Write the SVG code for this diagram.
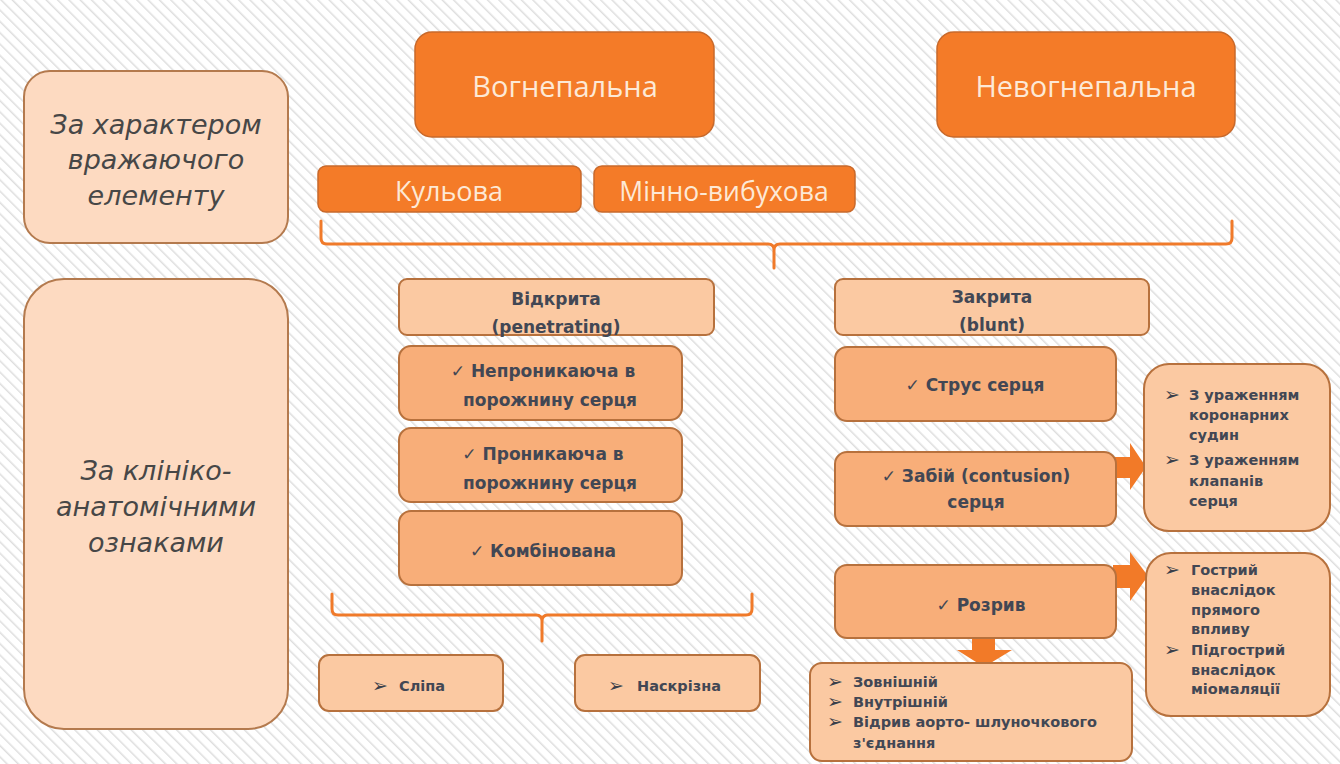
<svg xmlns="http://www.w3.org/2000/svg" width="1340" height="764" viewBox="0 0 1340 764">
<defs>
<pattern id="stripes" width="8" height="8" patternUnits="userSpaceOnUse" patternTransform="rotate(-45)">
<rect width="8" height="8" fill="#ffffff"/>
<line x1="0" y1="0" x2="0" y2="8" stroke="#dedede" stroke-width="3"/>
</pattern>
</defs>
<style>
.dark{fill:#f47b28;stroke:#c8692b;stroke-width:1.5}
.mid{fill:#f8ae79;stroke:#b7713d;stroke-width:2}
.light{fill:#fbc9a2;stroke:#b7713d;stroke-width:2}
.pale{fill:#fddac1;stroke:#b47a4e;stroke-width:2}
.ttop{font-family:"Open Sans","Noto Sans",sans-serif;fill:#fde9d6;text-anchor:middle}
.tit{font-family:"DejaVu Sans",sans-serif;font-style:italic;font-size:27px;fill:#474747;text-anchor:middle}
.tb{font-family:"DejaVu Sans",sans-serif;font-weight:bold;font-size:17px;fill:#424754;text-anchor:middle}
.ts{font-family:"DejaVu Sans",sans-serif;font-weight:bold;font-size:14.5px;fill:#424754}
.bl{font-family:"DejaVu Sans",sans-serif;font-weight:bold;font-size:19px;fill:#3a3f4a}
.conn{fill:none;stroke:#f07a2a;stroke-width:3;stroke-linecap:round}
.arr{fill:#f27a28}
</style>
<rect width="1340" height="764" fill="url(#stripes)"/>

<g id="conn">
<path class="conn" d="M321,221 L321,238 Q321,244 327,244 L768,244 Q774,244 774,250 L774,268 M774,250 Q774,244 780,244 L1226,244 Q1232,244 1232,238 L1232,221"/>
<path class="conn" d="M332,594 L332,609 Q332,615 338,615 L536,615 Q542,615 542,621 L542,641 M542,621 Q542,615 548,615 L746,615 Q752,615 752,609 L752,594"/>
<polygon class="arr" points="1113,457 1130,457 1130,443 1146,467 1130,490 1130,478 1113,478"/>
<polygon class="arr" points="1113,565 1130,565 1130,552 1148,576 1130,601 1130,588 1113,588"/>
<polygon class="arr" points="972,639 995,639 995,650 1012,650 984,667 957,650 972,650"/>
</g>

<g id="n-char">
<rect class="pale" x="24" y="71" width="264" height="172" rx="26"/>
<text class="tit" x="156" y="134">За характером</text>
<text class="tit" x="156" y="169">вражаючого</text>
<text class="tit" x="156" y="205">елементу</text>
</g>

<g id="n-clin">
<rect class="pale" x="24" y="279" width="264" height="450" rx="40"/>
<text class="tit" x="156" y="480">За клініко-</text>
<text class="tit" x="156" y="516">анатомічними</text>
<text class="tit" x="156" y="552">ознаками</text>
</g>

<g id="n-vog">
<rect class="dark" x="415" y="32" width="299" height="105" rx="17"/>
<text class="ttop" x="565" y="97" font-size="29">Вогнепальна</text>
</g>

<g id="n-nevog">
<rect class="dark" x="937" y="32" width="298" height="105" rx="17"/>
<text class="ttop" x="1086" y="97" font-size="29">Невогнепальна</text>
</g>

<g id="n-kul">
<rect class="dark" x="318" y="166" width="263" height="46" rx="8"/>
<text class="ttop" x="449" y="201" font-size="27">Кульова</text>
</g>

<g id="n-mvb">
<rect class="dark" x="594" y="166" width="261" height="46" rx="8"/>
<text class="ttop" x="724" y="201" font-size="26.5">Мінно-вибухова</text>
</g>

<g id="n-vidkr">
<rect class="light" x="399" y="279" width="315" height="56" rx="8"/>
<text class="tb" x="556" y="305">Відкрита</text>
<text class="tb" x="556" y="333">(penetrating)</text>
</g>

<g id="n-nepron">
<rect class="mid" x="399" y="346" width="283" height="74" rx="12"/>
<text class="tb" x="543" y="377">✓ Непроникаюча в</text>
<text class="tb" x="550" y="406">порожнину серця</text>
</g>

<g id="n-pron">
<rect class="mid" x="399" y="428" width="283" height="74" rx="12"/>
<text class="tb" x="543" y="460">✓ Проникаюча в</text>
<text class="tb" x="550" y="489">порожнину серця</text>
</g>

<g id="n-komb">
<rect class="mid" x="399" y="511" width="283" height="74" rx="12"/>
<text class="tb" x="543" y="557">✓ Комбінована</text>
</g>

<g id="n-slipa">
<rect class="light" x="319" y="655" width="184" height="56" rx="10"/>
<text class="bl" x="372" y="692">➢</text>
<text class="ts" x="399" y="691">Сліпа</text>
</g>

<g id="n-naskr">
<rect class="light" x="575" y="655" width="185" height="56" rx="10"/>
<text class="bl" x="608" y="692">➢</text>
<text class="ts" x="637" y="691">Наскрізна</text>
</g>

<g id="n-zakr">
<rect class="light" x="835" y="279" width="314" height="56" rx="8"/>
<text class="tb" x="992" y="303">Закрита</text>
<text class="tb" x="992" y="331">(blunt)</text>
</g>

<g id="n-strus">
<rect class="mid" x="835" y="347" width="281" height="74" rx="12"/>
<text class="tb" x="975" y="391">✓ Струс серця</text>
</g>

<g id="n-zabii">
<rect class="mid" x="835" y="452" width="281" height="74" rx="12"/>
<text class="tb" x="976" y="482">✓ Забій (contusion)</text>
<text class="tb" x="976" y="508">серця</text>
</g>

<g id="n-rozryv">
<rect class="mid" x="835" y="565" width="281" height="73" rx="12"/>
<text class="tb" x="981" y="611">✓ Розрив</text>
</g>

<g id="n-coron">
<rect class="light" x="1144" y="364" width="186" height="167" rx="25"/>
<text class="bl" x="1164" y="401">➢</text>
<text class="ts" x="1189" y="400">З ураженням</text>
<text class="ts" x="1189" y="420">коронарних</text>
<text class="ts" x="1189" y="440">судин</text>
<text class="bl" x="1164" y="466">➢</text>
<text class="ts" x="1189" y="465">З ураженням</text>
<text class="ts" x="1189" y="486">клапанів</text>
<text class="ts" x="1189" y="506">серця</text>
</g>

<g id="n-gostr">
<rect class="light" x="1146" y="553" width="184" height="163" rx="25"/>
<text class="bl" x="1164" y="576">➢</text>
<text class="ts" x="1191" y="575">Гострий</text>
<text class="ts" x="1191" y="595">внаслідок</text>
<text class="ts" x="1191" y="615">прямого</text>
<text class="ts" x="1191" y="634">впливу</text>
<text class="bl" x="1164" y="656">➢</text>
<text class="ts" x="1191" y="655">Підгострий</text>
<text class="ts" x="1191" y="675">внаслідок</text>
<text class="ts" x="1191" y="694">міомаляції</text>
</g>

<g id="n-zovn">
<rect class="light" x="810" y="663" width="322" height="98" rx="12"/>
<text class="bl" x="827" y="688">➢</text>
<text class="ts" x="853" y="687">Зовнішній</text>
<text class="bl" x="827" y="708">➢</text>
<text class="ts" x="853" y="707">Внутрішній</text>
<text class="bl" x="827" y="728">➢</text>
<text class="ts" x="853" y="727">Відрив аорто- шлуночкового</text>
<text class="ts" x="853" y="748">з'єднання</text>
</g>
</svg>
